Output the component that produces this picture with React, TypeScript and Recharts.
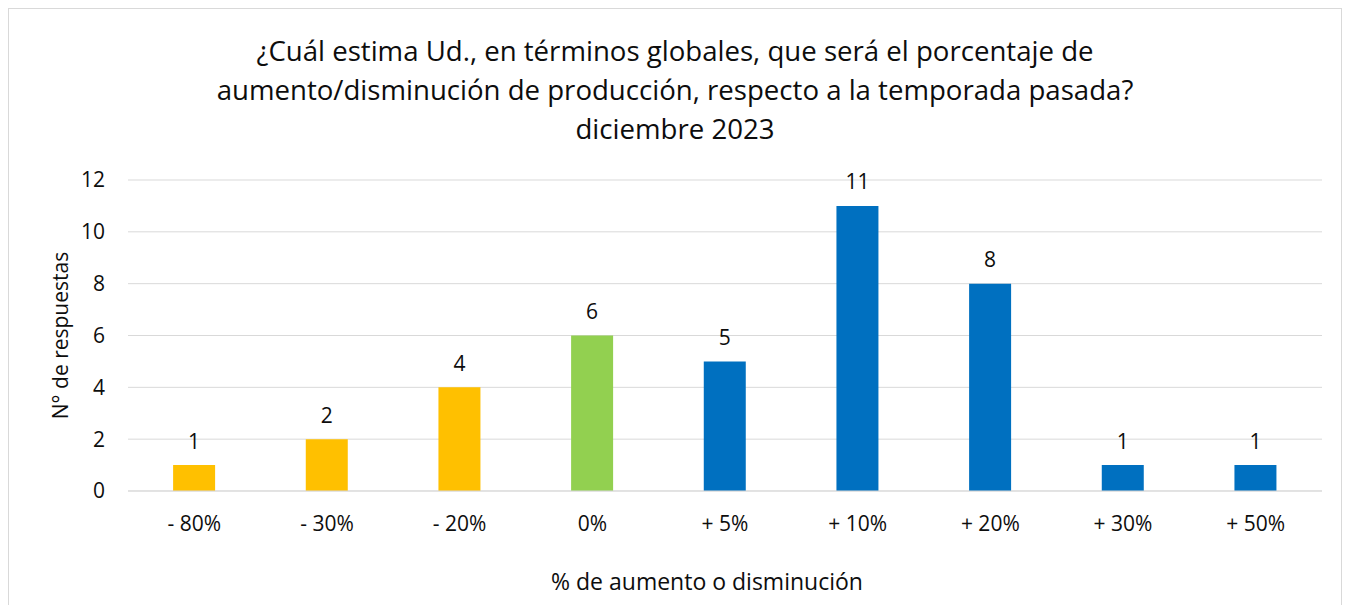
import { BarChart, Bar, XAxis, YAxis, CartesianGrid, Cell, LabelList } from 'recharts';

const categories = ['- 80%', '- 30%', '- 20%', '0%', '+ 5%', '+ 10%', '+ 20%', '+ 30%', '+ 50%'];
const respuestas = [1, 2, 4, 6, 5, 11, 8, 1, 1];
const yTicks = [0, 2, 4, 6, 8, 10, 12];
const titleLines = [
  '¿Cuál estima Ud., en términos globales, que será el porcentaje de',
  'aumento/disminución de producción, respecto a la temporada pasada?',
  'diciembre 2023',
];

const FONT = '"Open Sans", "Noto Sans", sans-serif';
const TEXT = '#0d0d0d';

// amarillo = disminución, verde = sin cambio, azul = aumento
function barColor(cat: string) {
  if (cat.startsWith('-')) return '#FFC000';
  if (cat.startsWith('+')) return '#0070C0';
  return '#92D050';
}

const data = categories.map((c, i) => ({ cat: c, value: respuestas[i] }));

export default function App() {
  return (
    <div
      style={{
        position: 'relative',
        width: 1332,
        height: 610,
        border: '1px solid #d9d9d9',
        background: '#fff',
        fontFamily: FONT,
      }}
    >
      <div
        style={{
          position: 'absolute',
          top: 22,
          left: 0,
          width: 1332,
          textAlign: 'center',
          fontSize: 27.6,
          lineHeight: '39px',
          color: TEXT,
        }}
      >
        {titleLines.map((l) => (
          <div key={l}>{l}</div>
        ))}
      </div>
      <BarChart
        width={1332}
        height={600}
        data={data}
        margin={{ top: 171, right: 19, bottom: 18, left: 10 }}
        barCategoryGap="34%"
      >
        <CartesianGrid vertical={false} stroke="#d9d9d9" strokeWidth={1} />
        <XAxis
          dataKey="cat"
          height={100}
          axisLine={{ stroke: '#d9d9d9' }}
          tickLine={false}
          tickSize={0}
          tickMargin={25}
          interval={0}
          tick={{ fontSize: 21, fill: TEXT, fontFamily: FONT }}
          label={{
            content: (p: any) => {
              const vb = p.viewBox;
              return (
                <text
                  x={vb.x + vb.width / 2 - 18}
                  y={vb.y + 99}
                  textAnchor="middle"
                  fontSize={23}
                  fill={TEXT}
                  fontFamily={FONT}
                >
                  % de aumento o disminución
                </text>
              );
            },
          }}
        />
        <YAxis
          width={109}
          domain={[0, 12]}
          ticks={yTicks}
          axisLine={false}
          tickLine={false}
          tickSize={0}
          tickMargin={23}
          tick={{ fontSize: 21, fill: TEXT, fontFamily: FONT }}
          label={{
            content: (p: any) => {
              const vb = p.viewBox;
              const cx = vb.x + 41;
              const cy = vb.y + vb.height / 2;
              return (
                <text
                  x={cx}
                  y={cy}
                  transform={`rotate(-90, ${cx}, ${cy})`}
                  textAnchor="middle"
                  dominantBaseline="central"
                  fontSize={21}
                  fill={TEXT}
                  fontFamily={FONT}
                >
                  N° de respuestas
                </text>
              );
            },
          }}
        />
        <Bar dataKey="value" isAnimationActive={false}>
          {data.map((d) => (
            <Cell key={d.cat} fill={barColor(d.cat)} />
          ))}
          <LabelList
            dataKey="value"
            position="top"
            offset={16.5}
            style={{ fontSize: 21, fill: TEXT, fontFamily: FONT }}
          />
        </Bar>
      </BarChart>
    </div>
  );
}
